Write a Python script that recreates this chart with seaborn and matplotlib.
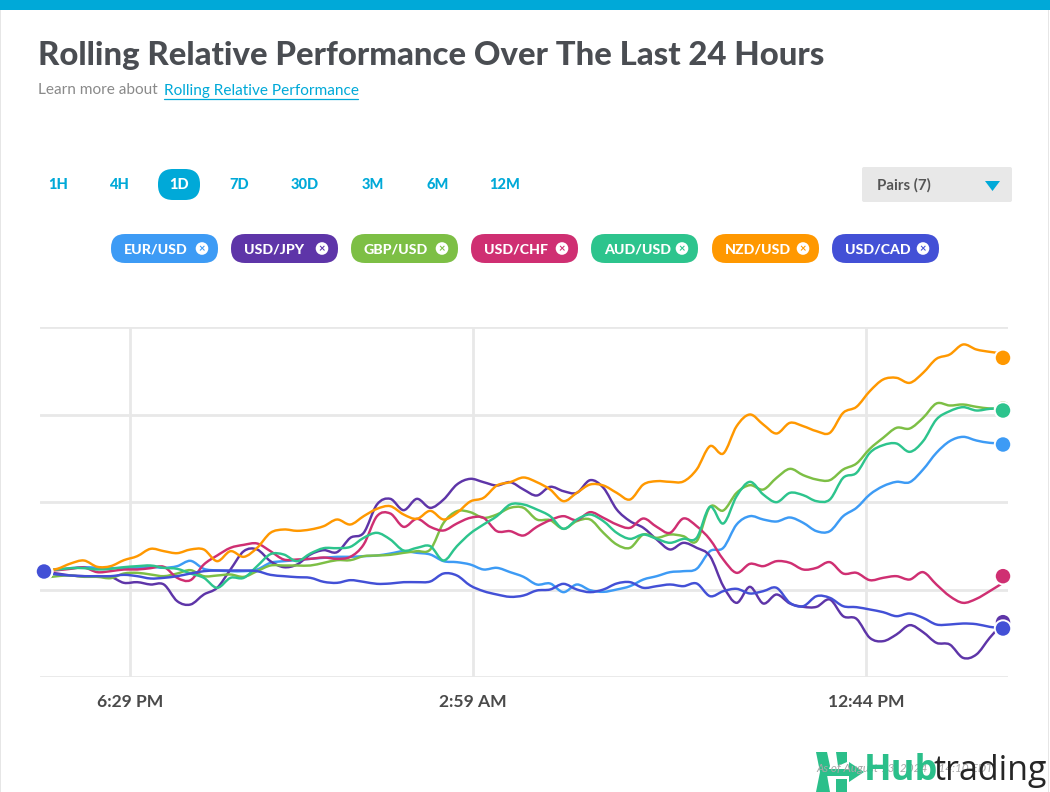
import numpy as np
import pandas as pd
import matplotlib
matplotlib.use("Agg")
import matplotlib.pyplot as plt
from matplotlib.patches import FancyBboxPatch, Rectangle, Polygon, Circle
from matplotlib.patheffects import AbstractPathEffect
from matplotlib.path import Path
from matplotlib.transforms import IdentityTransform
import seaborn as sns

# Values: relative performance in index points, sampled every 20 minutes over 24 h
minutes = list(range(0, 1441, 20))
EUR_USD = [58,60,64,67,65,64,65,64,68,65,70,86,62,57,55,55,60,80,85,88,92,95,98,98,100,102,
           108,115,110,105,85,82,75,60,65,52,38,15,18,-8,15,-2,-7,0,10,30,40,52,55,62,
           115,125,195,220,210,204,216,200,175,175,220,245,285,310,323,322,360,410,445,458,447,440,438]
USD_JPY = [52,48,42,40,38,38,20,22,15,15,-35,-45,-15,5,60,115,120,85,67,75,105,118,112,155,170,255,
           272,238,272,245,270,315,332,322,312,322,300,282,308,295,290,328,305,240,205,185,150,120,140,125,
           100,10,-40,8,-42,-15,-42,-52,-52,-30,-80,-88,-145,-155,-135,-107,-128,-160,-165,-205,-195,-145,-100]
GBP_USD = [35,40,42,38,38,34,48,50,45,40,48,58,40,42,45,38,55,72,72,72,72,80,88,88,100,102,
           104,110,115,120,200,235,232,215,225,245,245,210,208,182,205,210,170,135,125,165,155,165,160,145,
           248,237,290,313,300,335,362,343,330,328,360,378,422,455,485,483,515,558,552,555,548,543,542]
USD_CHF = [55,58,62,66,52,55,60,60,64,68,35,28,75,102,125,134,138,115,90,90,92,96,92,98,135,220,
           228,188,212,188,177,198,215,215,175,175,162,188,208,220,208,232,215,195,185,213,188,170,213,190,
           150,90,50,77,70,85,80,60,65,82,48,50,28,35,40,30,52,15,-20,-40,-28,-5,20]
AUD_USD = [58,60,64,64,60,62,67,70,72,65,62,48,35,5,35,35,70,106,105,85,108,124,124,128,155,170,
           150,117,125,130,87,130,168,195,220,255,255,240,220,182,210,225,205,170,152,165,152,140,152,155,
           248,198,280,323,285,262,290,283,265,270,335,350,410,433,438,413,445,510,535,547,537,542,544]
NZD_USD = [55,62,78,87,68,70,88,100,122,115,109,120,120,85,115,98,125,170,180,176,180,190,210,195,220,242,
           250,225,212,236,210,230,264,275,312,322,336,322,300,265,290,315,312,290,270,315,325,323,324,360,
           430,408,490,525,495,468,500,490,475,470,530,548,595,630,635,620,650,692,705,735,720,713,708]
USD_CAD = [50,45,42,40,40,40,44,40,33,35,40,48,55,57,57,57,55,44,40,37,35,23,20,28,23,17,
           18,22,22,24,48,42,12,-5,-15,-22,-18,-3,0,17,0,-8,0,18,22,5,10,15,10,18,
           -20,-5,2,-12,-5,5,-40,-50,-20,-25,-50,-53,-60,-68,-80,-72,-85,-105,-105,-102,-104,-112,-117]

pairs = ["EUR/USD", "USD/JPY", "GBP/USD", "USD/CHF", "AUD/USD", "NZD/USD", "USD/CAD"]
colors = ["#3d9bf5", "#5e35a8", "#7dbf45", "#cf2f72", "#2dc48d", "#ff9800", "#4350d6"]
series = [EUR_USD, USD_JPY, GBP_USD, USD_CHF, AUD_USD, NZD_USD, USD_CAD]
start_value = 54
end_values = [435, -98, 543, 40, 537, 695, -117]
time_ticks = [129, 644, 1234]
time_labels = ["6:29 PM", "2:59 AM", "12:44 PM"]
value_ticks = [-262.5, 0, 262.5, 525, 787.5]
tabs = ["1H", "4H", "1D", "7D", "30D", "3M", "6M", "12M"]

long_df = pd.concat([pd.DataFrame({"minute": minutes, "value": s, "pair": p})
                     for p, s in zip(pairs, series)])
ends_df = pd.DataFrame({"minute": [1440] * 7, "value": end_values, "pair": pairs})
start_df = pd.DataFrame({"minute": [0] * 7, "value": [start_value] * 7, "pair": pairs})
palette = dict(zip(pairs, colors))


class RoundedCurve(AbstractPathEffect):
    """Strokes a line's own vertices with curved instead of straight joins."""

    def draw_path(self, renderer, gc, tpath, affine, rgbFace=None):
        p = affine.transform(tpath.vertices)
        if len(p) < 3:
            renderer.draw_path(gc, tpath, affine, rgbFace)
            return
        q = np.vstack([p[0], p, p[-1]])
        verts = [p[0]]
        codes = [Path.MOVETO]
        for i in range(1, len(q) - 2):
            verts += [q[i] + (q[i + 1] - q[i - 1]) / 6, q[i + 1] - (q[i + 2] - q[i]) / 6, q[i + 1]]
            codes += [Path.CURVE4] * 3
        renderer.draw_path(gc, Path(np.array(verts), codes), IdentityTransform(), rgbFace)


W, H = 1050, 792
sns.set_theme(style="white")
plt.rcParams["font.family"] = ["Lato", "DejaVu Sans"]
fig = plt.figure(figsize=(W / 100, H / 100), dpi=100, facecolor="white")

# chart axes, 40..1008 px wide and 327..677 px tall
ax = fig.add_axes([40 / W, 1 - 677 / H, 968 / W, 350 / H], zorder=1)
ax.set_xlim(-6, 1447.5)
ax.set_ylim(-262.5, 787.5)
ax.set_axisbelow(True)
ax.set_xticks(time_ticks, time_labels)
ax.set_yticks(value_ticks, [""] * 5)
ax.grid(True, color="#e8e8e8", lw=2)
for s in ax.spines.values():
    s.set_visible(False)
ax.tick_params(axis="x", length=0, pad=12.5, labelsize=12.6, labelcolor="#4a4a4a")
ax.tick_params(axis="y", length=0)
for t in ax.get_xticklabels():
    t.set_fontweight("bold")

sns.lineplot(data=long_df, x="minute", y="value", hue="pair", hue_order=pairs,
             palette=palette, lw=1.75, legend=False, ax=ax, errorbar=None, sort=False,
             solid_joinstyle="round", solid_capstyle="round")
for line in ax.get_lines():
    line.set_path_effects([RoundedCurve()])
sns.scatterplot(data=ends_df, x="minute", y="value", hue="pair", hue_order=pairs,
                palette=palette, s=140, edgecolor="white", linewidth=1.4, legend=False,
                ax=ax, zorder=5, clip_on=False)
sns.scatterplot(data=start_df, x="minute", y="value", hue="pair", hue_order=pairs,
                palette=palette, s=140, edgecolor="white", linewidth=1.4, legend=False,
                ax=ax, zorder=5, clip_on=False)
ax.set_xlabel("")
ax.set_ylabel("")

# page furniture, in pixel coordinates
ui = fig.add_axes([0, 0, 1, 1], zorder=2)
ui.set_xlim(0, W)
ui.set_ylim(H, 0)
ui.axis("off")
ui.patch.set_alpha(0)
CYAN = "#00a9d8"

ui.add_patch(Rectangle((0, 0), W, 10, color=CYAN, lw=0))
ui.add_patch(Rectangle((0, 10), 1.2, H, color="#e6e6e6", lw=0))
ui.add_patch(Rectangle((1047.5, 10), 1.2, H, color="#e6e6e6", lw=0))

ui.text(38, 56, "Rolling Relative Performance Over The Last 24 Hours", fontsize=23.7,
        fontweight="black", color="#4a4d52", va="center", ha="left")
ui.text(38, 90.5, "Learn more about", fontsize=11.1, color="#8a8a8a", va="center", ha="left")
ui.text(163.5, 90.5, "Rolling Relative Performance", fontsize=11.1, color=CYAN, va="center", ha="left")
ui.plot([164, 358], [98.5, 98.5], color=CYAN, lw=0.9)

for label, x in zip(tabs, [58, 119, 179, 239, 305, 373, 438, 505]):
    if label == "1D":
        ui.add_patch(FancyBboxPatch((158 + 15, 169 + 15), 12, 1, boxstyle="round,pad=15",
                                    lw=0, color=CYAN))
    ui.text(x, 185, label, fontsize=10.5, fontweight="black", ha="center", va="center",
            color="white" if label == "1D" else CYAN)

ui.add_patch(FancyBboxPatch((864, 169), 146, 31, boxstyle="round,pad=2", lw=0, color="#e8e8e8"))
ui.text(877, 185, "Pairs (7)", fontsize=10.8, fontweight="bold", color="#555555", va="center", ha="left")
ui.add_patch(Polygon([[985, 181], [1000, 181], [992.5, 191]], closed=True, color=CYAN, lw=0))

for label, c, x0 in zip(pairs, colors, [111, 231, 351, 471, 591, 712, 832]):
    ui.add_patch(FancyBboxPatch((x0 + 14, 234 + 14), 79, 1, boxstyle="round,pad=14", lw=0, color=c))
    ui.text(x0 + 13, 249, label, fontsize=10.2, fontweight="black", color="white", va="center", ha="left")
    ui.add_patch(Circle((x0 + 91, 248.5), 6.3, color="white", lw=0))
    ui.text(x0 + 91, 248.2, "×", fontsize=8, fontweight="bold", color=c, va="center", ha="center")

# watermark
ui.text(816, 769, "As of August 13, 2024    14:10 EDT", fontsize=8.5, color="#a8a8a8",
        va="center", ha="left", style="italic")
G = "#2bbf8a"
ui.add_patch(Polygon([[816, 752], [827, 752], [830, 766], [827, 775], [830, 792], [816, 792],
                      [820, 772]], closed=True, color=G, lw=0))
ui.add_patch(Polygon([[836, 752], [847, 752], [847, 762], [838, 766]], closed=True, color=G, lw=0))
ui.add_patch(Polygon([[836, 779], [847, 779], [847, 792], [836, 792]], closed=True, color=G, lw=0))
ui.add_patch(Polygon([[825, 769], [849, 769], [849, 762], [864, 772], [849, 782], [849, 776], [825, 776]],
                     closed=True, color=G, lw=0))
ui.text(864, 771, "Hub", fontsize=26, fontweight="bold", color=G, va="center", ha="left",
        family=["Open Sans", "DejaVu Sans"])
ui.text(934, 771, "trading", fontsize=24.5, color="#262626", va="center", ha="left",
        family=["Open Sans", "DejaVu Sans"])

fig.savefig("out.png", dpi=100)
